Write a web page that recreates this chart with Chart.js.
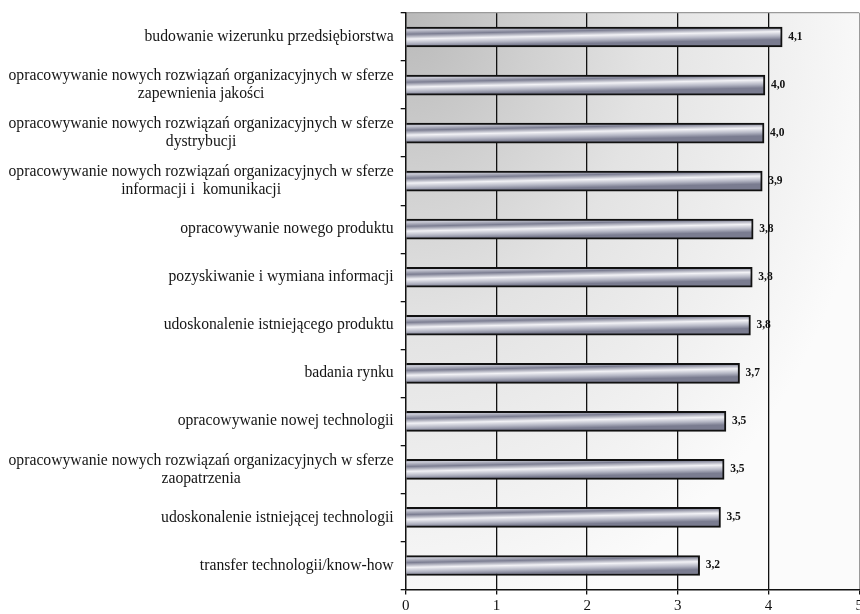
<!DOCTYPE html>
<html>
<head>
<meta charset="utf-8">
<script src="https://cdn.jsdelivr.net/npm/chart.js@4"></script>
<style>
  html, body { margin: 0; padding: 0; background: #fff; overflow: hidden; }
</style>
</head>
<body>
<canvas id="innovationChart" width="860" height="614"></canvas>
<script>
// Categories (multi-line ones are arrays)
var categories = [
    'budowanie wizerunku przedsiębiorstwa',
    ['opracowywanie nowych rozwiązań organizacyjnych w sferze', 'zapewnienia jakości'],
    ['opracowywanie nowych rozwiązań organizacyjnych w sferze', 'dystrybucji'],
    ['opracowywanie nowych rozwiązań organizacyjnych w sferze', 'informacji i  komunikacji'],
    'opracowywanie nowego produktu',
    'pozyskiwanie i wymiana informacji',
    'udoskonalenie istniejącego produktu',
    'badania rynku',
    'opracowywanie nowej technologii',
    ['opracowywanie nowych rozwiązań organizacyjnych w sferze', 'zaopatrzenia'],
    'udoskonalenie istniejącej technologii',
    'transfer technologii/know-how'
];

// Bar lengths
var scores = [4.15, 3.96, 3.95, 3.93, 3.83, 3.82, 3.80, 3.68, 3.53, 3.51, 3.47, 3.24];

// Printed value labels
var scoreLabels = ['4,1', '4,0', '4,0', '3,9', '3,8', '3,8', '3,8', '3,7', '3,5', '3,5', '3,5', '3,2'];

// Axis range
var xMin = 0;
var xMax = 5;
var xStep = 1;

var serif = "'Liberation Serif', 'Times New Roman', serif";
Chart.defaults.font.family = serif;
Chart.defaults.color = '#111';

// Grey radial backdrop behind the plot area
var backdropPlugin = {
    id: 'backdrop',
    beforeDraw: function(chart) {
        var a = chart.chartArea;
        var ctx = chart.ctx;
        ctx.save();
        ctx.beginPath();
        ctx.rect(a.left, a.top, a.right - a.left, a.bottom - a.top);
        ctx.clip();
        ctx.translate(a.left, a.top);
        ctx.scale(1, 1.3);
        var g = ctx.createRadialGradient(0, 0, 0, 0, 0, 480);
        g.addColorStop(0, '#b9b9b9');
        g.addColorStop(0.25, '#cfcfcf');
        g.addColorStop(0.5, '#e3e3e3');
        g.addColorStop(0.8, '#f1f1f1');
        g.addColorStop(1, '#fbfbfb');
        ctx.fillStyle = g;
        ctx.fillRect(-10, -10, a.right - a.left + 20, (a.bottom - a.top) + 20);
        ctx.restore();
    }
};

// Category labels: right-aligned block, lines centred inside the block
var categoryLabelPlugin = {
    id: 'categoryLabels',
    afterDraw: function(chart) {
        var ctx = chart.ctx;
        var yScale = chart.scales.y;
        var right = chart.chartArea.left - 12;
        var lineH = 18;
        ctx.save();
        ctx.font = '15.7px ' + serif;
        ctx.fillStyle = '#151515';
        ctx.textAlign = 'center';
        ctx.textBaseline = 'middle';
        categories.forEach(function(cat, i) {
            var lines = Array.isArray(cat) ? cat : [cat];
            var widest = 0;
            lines.forEach(function(l) { widest = Math.max(widest, ctx.measureText(l).width); });
            var cx = right - widest / 2;
            var cy = yScale.getPixelForValue(i);
            var y0 = cy - (lines.length - 1) * lineH / 2;
            lines.forEach(function(l, k) { ctx.fillText(l, cx, y0 + k * lineH); });
        });
        ctx.restore();
    }
};

// Value labels at bar ends
var valueLabelPlugin = {
    id: 'valueLabels',
    afterDatasetsDraw: function(chart) {
        var ctx = chart.ctx;
        var meta = chart.getDatasetMeta(0);
        ctx.save();
        ctx.font = 'bold 11.5px ' + serif;
        ctx.fillStyle = '#111';
        ctx.textAlign = 'left';
        ctx.textBaseline = 'middle';
        meta.data.forEach(function(bar, i) {
            ctx.fillText(scoreLabels[i], bar.x + 6, bar.y);
        });
        ctx.restore();
    }
};

// Metallic, slightly slanted fill for each bar
function barFill(c) {
    var chart = c.chart;
    var area = chart.chartArea;
    if (!area || c.dataIndex === undefined) return '#b0b2bf';
    var y = chart.scales.y.getPixelForValue(c.dataIndex);
    var h = 10;
    var g = chart.ctx.createLinearGradient(area.left, y - h, area.left + 0.4, y + h);
    g.addColorStop(0, '#9c9eae');
    g.addColorStop(0.15, '#c9cad5');
    g.addColorStop(0.36, '#7c7e92');
    g.addColorStop(0.6, '#f2f2f6');
    g.addColorStop(0.82, '#b4b6c4');
    g.addColorStop(1, '#7a7c90');
    return g;
}

var ctx = document.getElementById('innovationChart').getContext('2d');
var chart = new Chart(ctx, {
    type: 'bar',
    data: {
        labels: categories,
        datasets: [{
            data: scores,
            backgroundColor: barFill,
            borderColor: '#111',
            borderWidth: 2,
            barThickness: 20
        }]
    },
    options: {
        indexAxis: 'y',
        responsive: false,
        animation: false,
        layout: { padding: { top: 13, left: 0, right: 0.7, bottom: 0 } },
        plugins: {
            legend: { display: false },
            tooltip: { enabled: false }
        },
        scales: {
            x: {
                min: xMin,
                max: xMax,
                ticks: {
                    stepSize: xStep,
                    padding: 3,
                    color: '#111',
                    font: { size: 15 }
                },
                grid: {
                    color: function(c) {
                        if (c.tick && c.tick.value === xMin) return 'rgba(0,0,0,0)';
                        if (c.tick && c.tick.value === xMax) return '#9a9a9a';
                        return '#111';
                    },
                    lineWidth: 1.3,
                    tickColor: '#111',
                    tickLength: 5
                },
                border: { color: '#111', width: 1.5 },
                afterFit: function(scale) {
                    scale.height = 24.5;
                    scale.paddingLeft = 0;
                    scale.paddingRight = 0;
                }
            },
            y: {
                ticks: { display: false },
                grid: {
                    color: function(c) {
                        return c.index === 0 ? '#9a9a9a' : 'rgba(0,0,0,0)';
                    },
                    lineWidth: 1.3,
                    tickColor: '#111',
                    tickLength: 5
                },
                border: { color: '#111', width: 1.5 },
                afterFit: function(scale) {
                    scale.width = 405.7;
                    scale.paddingTop = 0;
                    scale.paddingBottom = 0;
                }
            }
        }
    },
    plugins: [backdropPlugin, categoryLabelPlugin, valueLabelPlugin]
});
</script>
</body>
</html>
